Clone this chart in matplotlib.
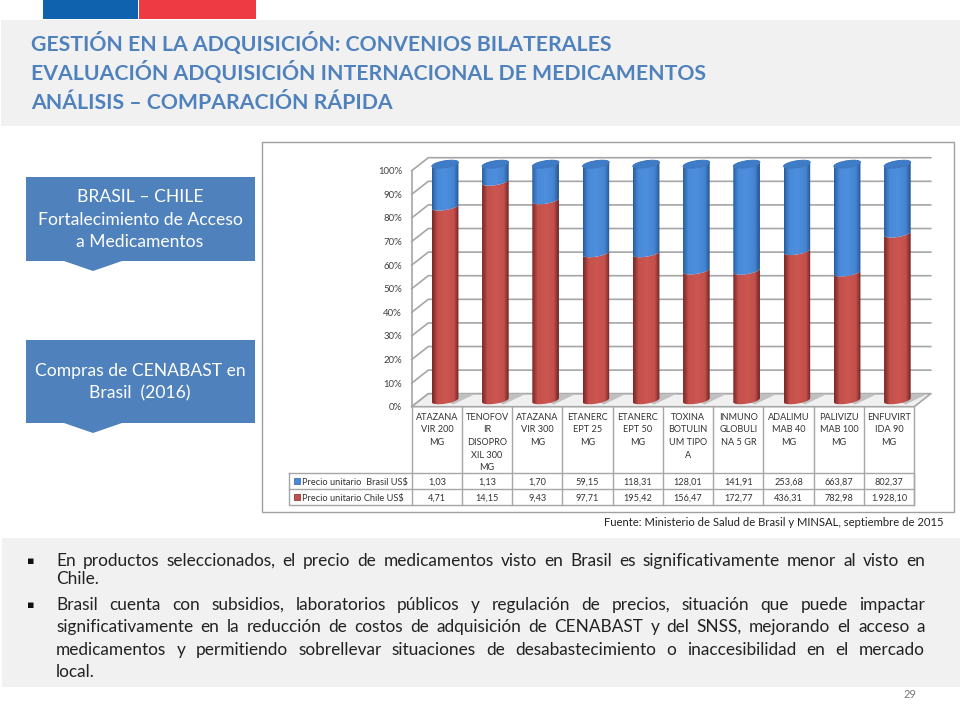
import numpy as np
import matplotlib
matplotlib.use('Agg')
import matplotlib.pyplot as plt
from matplotlib.colors import LinearSegmentedColormap
from matplotlib.patches import Polygon, Rectangle

plt.rcParams['font.family'] = ['Lato', 'DejaVu Sans']

# Table values
categories = ['ATAZANA\nVIR 200\nMG', 'TENOFOV\nIR\nDISOPRO\nXIL 300\nMG', 'ATAZANA\nVIR 300\nMG',
              'ETANERC\nEPT 25\nMG', 'ETANERC\nEPT 50\nMG', 'TOXINA\nBOTULIN\nUM TIPO\nA',
              'INMUNO\nGLOBULI\nNA 5 GR', 'ADALIMU\nMAB 40\nMG', 'PALIVIZU\nMAB 100\nMG', 'ENFUVIRT\nIDA 90\nMG']
precio_brasil = [1.03, 1.13, 1.70, 59.15, 118.31, 128.01, 141.91, 253.68, 663.87, 802.37]
precio_chile = [4.71, 14.15, 9.43, 97.71, 195.42, 156.47, 172.77, 436.31, 782.98, 1928.10]
label_brasil = ['1,03', '1,13', '1,70', '59,15', '118,31', '128,01', '141,91', '253,68', '663,87', '802,37']
label_chile = ['4,71', '14,15', '9,43', '97,71', '195,42', '156,47', '172,77', '436,31', '782,98', '1.928,10']
y_ticks = [0, 10, 20, 30, 40, 50, 60, 70, 80, 90, 100]

title_lines = ['GESTIÓN EN LA ADQUISICIÓN: CONVENIOS BILATERALES',
               'EVALUACIÓN ADQUISICIÓN INTERNACIONAL DE MEDICAMENTOS',
               'ANÁLISIS – COMPARACIÓN RÁPIDA']
body_lines = [
    ('En productos seleccionados, el precio de medicamentos visto en Brasil es significativamente menor al visto en', 566, True),
    ('Chile.', 584, False),
    ('Brasil cuenta con subsidios, laboratorios públicos y regulación de precios, situación que puede impactar', 610, True),
    ('significativamente en la reducción de costos de adquisición de CENABAST y del SNSS, mejorando el acceso a', 632, True),
    ('medicamentos y permitiendo sobrellevar situaciones de desabastecimiento o inaccesibilidad en el mercado', 655, True),
    ('local.', 677, False),
]

BLUE = '#4f81bd'
fig = plt.figure(figsize=(9.6, 7.2), dpi=100)

# Page layer in pixel coordinates
bg = fig.add_axes([0, 0, 1, 1])
bg.set_xlim(0, 960)
bg.set_ylim(720, 0)
bg.axis('off')

bg.add_patch(Rectangle((43, 0), 95, 19, fc='#0f62ad', ec='none'))
bg.add_patch(Rectangle((139, 0), 117, 19, fc='#ee3a43', ec='none'))
bg.add_patch(Rectangle((1, 20), 959, 106, fc='#f1f1f2', ec='none'))
bg.add_patch(Rectangle((2, 538), 958, 149, fc='#f1f1f2', ec='none'))
for line, y in zip(title_lines, [51, 80, 109]):
    bg.text(31, y, line, color=BLUE, fontsize=15.3, fontweight='bold', va='baseline')

# Side boxes with their small arrows
for top, bottom, lines, ys in [(177, 261, ['BRASIL – CHILE', 'Fortalecimiento de Acceso', 'a Medicamentos'], [202, 225, 247]),
                               (340, 423, ['Compras de CENABAST en', 'Brasil  (2016)'], [376, 398])]:
    bg.add_patch(Rectangle((26, top), 229, bottom - top, fc=BLUE, ec='none'))
    bg.add_patch(Polygon([(64, bottom), (122, bottom), (93, bottom + 10)], fc=BLUE, ec='none'))
    for line, y in zip(lines, ys):
        bg.text(140, y, line, color='white', fontsize=12.6, ha='center', va='baseline')

# Chart frame
bg.add_patch(Rectangle((261.5, 142), 692, 370, fc='white', ec='#a0a0a0', lw=1.0))

# Table under the chart
edge = '#a6a6a6'
col_left = 411.7
col_w = 50.25
for i in range(11):
    bg.plot([col_left + i * col_w] * 2, [407, 505], color=edge, lw=1)
bg.plot([289, 914.2, 914.2, 289, 289], [473, 473, 505, 505, 473], color=edge, lw=1)
bg.plot([289, 914.2], [489, 489], color=edge, lw=1)
for i, cat in enumerate(categories):
    cx = col_left + (i + 0.5) * col_w
    for j, part in enumerate(cat.split('\n')):
        bg.text(cx, 420 + j * 12.5, part, fontsize=6.6, color='#333333', ha='center', va='baseline')
    bg.text(cx, 485, label_brasil[i], fontsize=6.6, color='#333333', ha='center', va='baseline')
    bg.text(cx, 500.5, label_chile[i], fontsize=6.6, color='#333333', ha='center', va='baseline')
bg.add_patch(Rectangle((294, 478), 5.5, 5.5, fc='#4a8ad8', ec='#2d5f9e', lw=0.5))
bg.add_patch(Rectangle((294, 494), 5.5, 5.5, fc='#c0504d', ec='#7d2a28', lw=0.5))
bg.text(302, 485, 'Precio unitario  Brasil US$', fontsize=6.7, color='#333333', va='baseline')
bg.text(302, 500.5, 'Precio unitario Chile US$', fontsize=6.7, color='#333333', va='baseline')

bg.text(943, 526, 'Fuente: Ministerio de Salud de Brasil y MINSAL, septiembre de 2015',
        fontsize=8.1, color='#222222', ha='right', va='baseline')
bg.text(910, 698, '29', fontsize=8, color='#777777', ha='center', va='baseline')

# Body text, justified word by word
renderer = fig.canvas.get_renderer()
for line, y, justify in body_lines:
    words = line.split(' ')
    items = [bg.text(56, y, w, fontsize=12.4, color='#222222', va='baseline') for w in words]
    widths = [t.get_window_extent(renderer).width for t in items]
    gap = (925 - 56 - sum(widths)) / (len(words) - 1) if justify else 3.5
    x = 56
    for t, w in zip(items, widths):
        t.set_x(x)
        x += w + gap
for y in [561, 605]:
    bg.text(31, y, '▪', fontsize=8, color='#111111', ha='center', va='center', family='DejaVu Sans')

# Chart axes: the front plane of the 3D box, bars sit half a depth behind it
ax = fig.add_axes([411.7 / 960, 1 - 406.7 / 720, (914.2 - 411.7) / 960, 236 / 720])
ax.patch.set_alpha(0)
ax.set_xlim(-0.5, 9.5)
ax.set_ylim(0, 100)
for s in ax.spines.values():
    s.set_visible(False)
ax.set_xticks([])
ax.set_yticks(y_ticks)
ax.set_yticklabels([f'{v}%' for v in y_ticks], fontsize=6.9, color='#404040')
ax.tick_params(axis='y', length=0, pad=7)

depth_x = 0.33
depth_y = 5.5
for v in y_ticks:
    ax.plot([-0.5, -0.5 + depth_x, 9.5 + depth_x], [v, v + depth_y, v + depth_y], color=edge, lw=1.2, clip_on=False, zorder=1)
ax.plot([-0.5, -0.5], [0, 100], color=edge, lw=1.2, clip_on=False, zorder=1)
ax.add_patch(Polygon([(-0.5, 0), (-0.5 + depth_x, depth_y), (9.5 + depth_x, depth_y), (9.5, 0)],
                     fc='#f0f0f0', ec=edge, lw=1.2, clip_on=False, zorder=1.5))

stops = [0, 0.07, 0.2, 0.5, 0.82, 0.93, 1]
red_cm = LinearSegmentedColormap.from_list('r', list(zip(stops, ['#7a2b29', '#8f3532', '#c4504c', '#cc5650', '#c4504c', '#8f3532', '#6f2523'])))
blue_cm = LinearSegmentedColormap.from_list('b', list(zip(stops, ['#2a5a96', '#3470b8', '#4a8ad8', '#4d8fde', '#4584d0', '#3068ac', '#26528a'])))
grad = np.linspace(0, 1, 64).reshape(1, -1)

radius = 0.265
ry = 3.5 * 100 / 236
tilt = 2.0 * 100 / 236
shift_x = depth_x / 2
shift_y = depth_y / 2
arc = np.linspace(np.pi, 2 * np.pi, 30)


def lower_arc(cx, level):
    return cx + radius * np.cos(arc), level + ry * np.sin(arc) + tilt * np.cos(arc)


def segment(cx, low, high, cmap, z):
    # A cylinder piece: lower curve of both ends, shaded left to right
    xa, ya = lower_arc(cx, low)
    xb, yb = lower_arc(cx, high)
    pts = np.column_stack([np.r_[xa, xb[::-1]], np.r_[ya, yb[::-1]]])
    shape = Polygon(pts, fc='none', ec='none', transform=ax.transData, clip_on=False)
    ax.add_patch(shape)
    im = ax.imshow(grad, cmap=cmap, aspect='auto', extent=[cx - radius, cx + radius, low - 5, high + 5], zorder=z)
    im.set_clip_path(shape)
    im.set_clip_box(fig.bbox)


for i in range(len(categories)):
    total = precio_brasil[i] + precio_chile[i]
    share = precio_chile[i] / total * 100
    cx = i + shift_x
    # floor shadow
    ax.add_patch(Polygon([(cx + radius * 0.6, shift_y - 1.8), (cx + radius * 2.3, depth_y), (cx + radius * 0.9, depth_y), (cx, shift_y)],
                         fc='#c0c0c0', ec='none', clip_on=False, zorder=1.7))
    segment(cx, shift_y, shift_y + share, red_cm, 2)
    segment(cx, shift_y + share, shift_y + 100, blue_cm, 3)
    t = np.linspace(0, 2 * np.pi, 60)
    ax.add_patch(Polygon(np.column_stack([cx + radius * np.cos(t), shift_y + 100 + ry * np.sin(t) + tilt * np.cos(t)]),
                         fc='#3f7cc8', ec='#3470b8', lw=0.6, clip_on=False, zorder=4))
ax.set_xlim(-0.5, 9.5)
ax.set_ylim(0, 100)

fig.savefig('out.png', dpi=100)
